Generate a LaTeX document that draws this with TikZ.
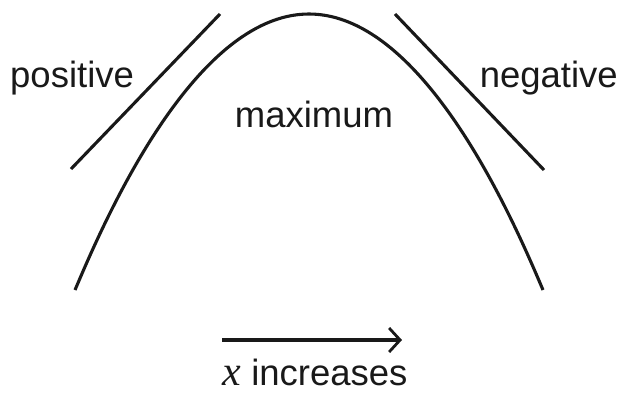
\documentclass[tikz,border=0pt]{standalone}
\usepackage{fontspec}
\setmainfont{Liberation Sans}
\newfontfamily\serifx{Liberation Serif}
\usetikzlibrary{arrows.meta}

\begin{document}
\begin{tikzpicture}[x=1pt, y=-1pt,
  curveline/.style={line width=3.1pt, color=black!90},
  label/.style={font=\fontsize{36.5}{40}\selectfont, inner sep=0pt, color=black!90},
  arrow/.style={-{Straight Barb[length=11pt, width=24pt, line width=2.8pt]}, line width=3.1pt, color=black!90}
]
  \useasboundingbox (0,0) rectangle (624,394);

  % curve and tangents
  \draw[curveline] (75,290) parabola bend (309,14) (543,290);
  \draw[curveline] (71,169) -- (220,14);
  \draw[curveline] (395,14) -- (544,170);

  % labels
  \node[label, anchor=base west] (pos) at (10,87) {positive};
  \node[label, anchor=base east] (neg) at (618,87) {negative};
  \node[label, anchor=base] (max) at (314,127) {maximum};

  % direction
  \coordinate (start) at (222,340);
  \coordinate (stop) at (402,340);
  \draw[arrow] (start) -- (stop);
  \node[label, anchor=base] (inc) at (315,385) {{\serifx\itshape\fontsize{42}{44}\selectfont x} increases};
\end{tikzpicture}
\end{document}
